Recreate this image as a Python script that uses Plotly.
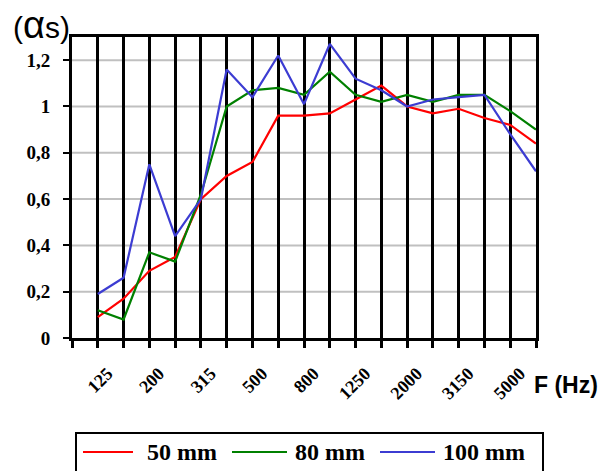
import plotly.graph_objects as go

# ---------------- data ----------------
freqs = [100, 125, 160, 200, 250, 315, 400, 500, 630, 800,
         1000, 1250, 1600, 2000, 2500, 3150, 4000, 5000]
labelled_freqs = [125, 200, 315, 500, 800, 1250, 2000, 3150, 5000]

series_names = ["50 mm", "80 mm", "100 mm"]
alpha_50 = [0.09, 0.17, 0.29, 0.35, 0.60, 0.70, 0.76, 0.96, 0.96, 0.97,
            1.03, 1.09, 1.00, 0.97, 0.99, 0.95, 0.92, 0.84]
alpha_80 = [0.12, 0.08, 0.37, 0.33, 0.62, 1.00, 1.07, 1.08, 1.05, 1.15,
            1.05, 1.02, 1.05, 1.02, 1.05, 1.05, 0.98, 0.90]
alpha_100 = [0.19, 0.26, 0.75, 0.44, 0.60, 1.16, 1.04, 1.22, 1.01, 1.27,
             1.12, 1.07, 1.00, 1.03, 1.04, 1.05, 0.88, 0.72]
series_values = [alpha_50, alpha_80, alpha_100]
colors = ["#ff0000", "#008000", "#3c3cd2"]

y_ticks = [0, 0.2, 0.4, 0.6, 0.8, 1.0, 1.2]
y_ticktext = ["0", "0,2", "0,4", "0,6", "0,8", "1", "1,2"]

y_title = "(<span style='font-size:38px'>\u03b1</span>s)"
x_title = "F (Hz)"

# ---------------- layout geometry (pixels) ----------------
FW, FH = 601, 471
L, T, W, H = 72, 37, 464, 301


def px(xp):
    return (xp - L) / W


def py(yp):
    return (T + H - yp) / H


xs = list(range(1, len(freqs) + 1))
tickvals = list(range(0, len(freqs) + 1))
ticktext = [""] + [str(f) if f in labelled_freqs else "" for f in freqs]

SERIF = "Liberation Serif"
SANS = "Liberation Sans"

fig = go.Figure()
for name, vals, col in zip(series_names, series_values, colors):
    fig.add_trace(go.Scatter(x=xs, y=vals, mode="lines", name=name,
                             line=dict(color=col, width=2.2),
                             showlegend=False, hoverinfo="skip"))

shapes = []
# horizontal gray gridlines below the black vertical ones
for v in y_ticks[1:]:
    shapes.append(dict(type="line", xref="paper", yref="y", x0=0, x1=1,
                       y0=v, y1=v, layer="below",
                       line=dict(color="#c0c0c0", width=2)))

# manual legend
shapes.append(dict(type="rect", xref="paper", yref="paper",
                   x0=px(76), x1=px(543), y0=py(433), y1=py(490),
                   line=dict(color="black", width=2), fillcolor="white"))
leg_lines = [(83, 133), (232, 287), (380, 435)]
leg_text_x = [145, 293, 441]
leg_y = 452
annotations = []
for (a, b), tx, name, col in zip(leg_lines, leg_text_x, series_names, colors):
    shapes.append(dict(type="line", xref="paper", yref="paper",
                       x0=px(a), x1=px(b), y0=py(leg_y), y1=py(leg_y),
                       line=dict(color=col, width=2)))
    annotations.append(dict(xref="paper", yref="paper", x=px(tx), y=py(leg_y),
                            xanchor="left", yanchor="middle", showarrow=False,
                            text=name,
                            font=dict(family=SERIF, size=24, color="black",
                                      weight="bold")))

annotations.append(dict(xref="paper", yref="paper", x=px(11), y=py(25),
                        xanchor="left", yanchor="middle", showarrow=False,
                        text=y_title,
                        font=dict(family=SANS, size=30, color="black")))
annotations.append(dict(xref="paper", yref="paper", x=px(532), y=py(385),
                        xanchor="left", yanchor="middle", showarrow=False,
                        text=x_title,
                        font=dict(family=SANS, size=23, color="black",
                                  weight="bold")))

fig.update_layout(
    width=FW, height=FH,
    margin=dict(l=L, r=FW - L - W, t=T, b=FH - T - H, pad=0,
                autoexpand=False),
    paper_bgcolor="white", plot_bgcolor="white",
    showlegend=False,
    shapes=shapes, annotations=annotations,
    xaxis=dict(range=[0, len(freqs)], tickmode="array", tickvals=tickvals,
               ticktext=ticktext, tickangle=-45, ticks="outside", ticklen=7,
               tickwidth=3, tickcolor="black", showgrid=True,
               gridcolor="black", gridwidth=3, showline=True,
               linecolor="black", linewidth=3, mirror=True, zeroline=False,
               ticklabelstandoff=8, ticklabelshift=-16, automargin=False,
               tickfont=dict(family=SERIF, size=18, color="black",
                             weight="bold")),
    yaxis=dict(range=[0, 1.3], tickmode="array", tickvals=y_ticks,
               ticktext=y_ticktext, ticks="outside", ticklen=6, tickwidth=2,
               tickcolor="black", showgrid=False, showline=True,
               linecolor="black", linewidth=3, mirror=True, zeroline=False,
               ticklabelstandoff=9, automargin=False,
               tickfont=dict(family=SERIF, size=19, color="black",
                             weight="bold")),
)

fig.write_html("out.html",
               config={"displayModeBar": False},
               post_script="document.body.style.margin='0';"
                           "document.body.style.padding='0';")
